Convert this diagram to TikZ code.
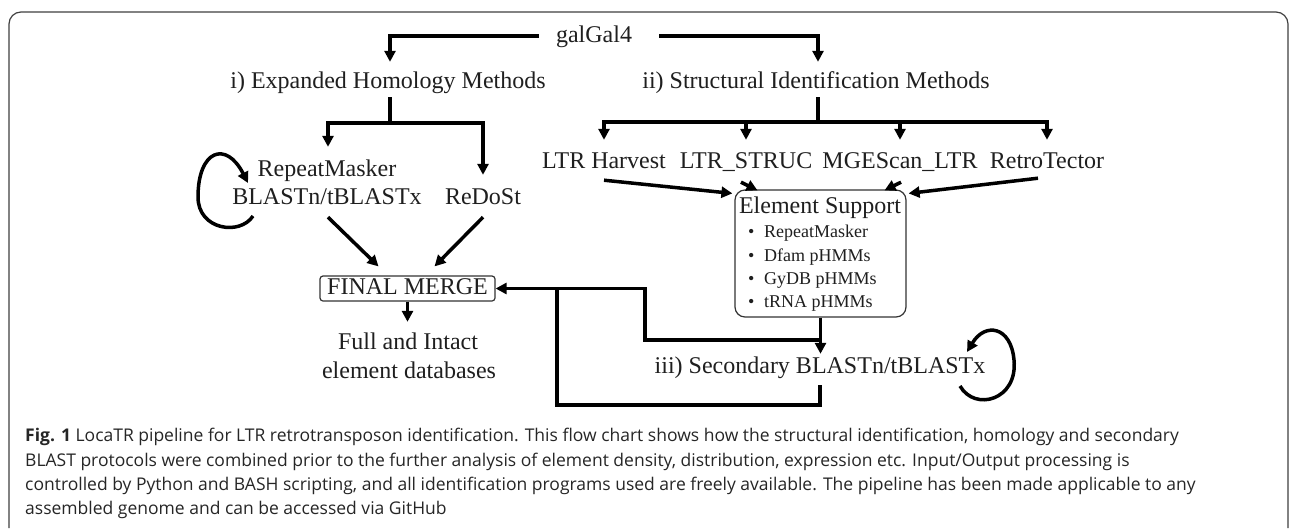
\documentclass[tikz,border=0pt]{standalone}
\usepackage{fontspec}
\setmainfont{Liberation Serif}
\newfontfamily\capfont{Open Sans}
\usetikzlibrary{arrows.meta}
\begin{document}
\begin{tikzpicture}[x=1pt,y=-1pt,
  lab/.style={inner sep=0pt, text height=17pt, text depth=5pt, font=\fontsize{24pt}{28pt}\selectfont, text=black!88},
  sm/.style={inner sep=0pt, text height=13pt, text depth=4pt, font=\fontsize{18pt}{22pt}\selectfont, text=black!88},
  ln/.style={line width=3.5pt, draw=black},
  arr/.style={ln, -{Triangle[length=11pt,width=11pt]}},
  boxed/.style={draw=black!80, line width=1.2pt},
  captxt/.style={inner sep=0pt, anchor=base west, font=\capfont\fontsize{17.5pt}{24pt}\selectfont, text=black!85},
  frm/.style={draw=black!75, line width=1.2pt, rounded corners=12pt}]
\useasboundingbox (0,0) rectangle (1290,528);
\fill[white] (0,0) rectangle (1290,528);
\draw[frm] (9,528) -- (9,12) -- (1288,12) -- (1288,528);

% nodes
\node[lab] (gal) at (594,36) {galGal4};
\node[lab] (hom) at (388,82) {i) Expanded Homology Methods};
\node[lab] (str) at (816,82) {ii) Structural Identification Methods};
\node[lab] (rm1) at (327,170) {RepeatMasker};
\node[lab] (rm2) at (327,198) {BLASTn/tBLASTx};
\node[lab] (redo) at (483,198) {ReDoSt};
\node[lab] (ltrh) at (604,162) {LTR Harvest};
\node[lab] (ltrs) at (746,162) {LTR\_STRUC};
\node[lab] (mge) at (900,162) {MGEScan\_LTR};
\node[lab] (retro) at (1047,162) {RetroTector};
\node[lab, boxed, rounded corners=3pt, minimum width=175pt, minimum height=25pt] (fm) at (407.5,288.5) {FINAL MERGE};
\node[lab] (full1) at (408,343) {Full and Intact};
\node[lab] (full2) at (409,372) {element databases};
\node[boxed, rounded corners=10pt, minimum width=171pt, minimum height=127pt, inner sep=0pt] (es) at (820.5,253.5) {};
\node[lab] (eshead) at (820,207) {Element Support};
\node[sm, anchor=west] (e1) at (748,233) {\makebox[16pt][l]{\textbullet}RepeatMasker};
\node[sm, anchor=west] (e2) at (748,257) {\makebox[16pt][l]{\textbullet}Dfam pHMMs};
\node[sm, anchor=west] (e3) at (748,280) {\makebox[16pt][l]{\textbullet}GyDB pHMMs};
\node[sm, anchor=west] (e4) at (748,303) {\makebox[16pt][l]{\textbullet}tRNA pHMMs};
\node[lab] (sec) at (820,367) {iii) Secondary BLASTn/tBLASTx};

% top branches
\draw[arr] ([xshift=-17pt]gal.west) -| ([xshift=2pt,yshift=9pt]hom.north);
\draw[arr] ([xshift=27pt]gal.east) -| ([xshift=2pt,yshift=9pt]str.north);

\coordinate (hj) at (390,123);
\draw[ln] ([xshift=2pt,yshift=-4pt]hom.south) -- (hj);
\draw[arr] (hj) -| ([xshift=1pt,yshift=12pt]rm1.north);
\draw[arr] (hj) -| ([yshift=12pt]redo.north);

\coordinate (sj) at (818,122);
\draw[ln] ([xshift=2pt,yshift=-4pt]str.south) -- (sj);
\draw[arr] (sj) -| ([yshift=11pt]ltrh.north);
\draw[arr] (sj) -| ([yshift=11pt]ltrs.north);
\draw[arr] (sj) -| ([yshift=11pt]mge.north);
\draw[arr] (sj) -| ([yshift=11pt]retro.north);

% into FINAL MERGE
\draw[arr] ([xshift=1pt,yshift=-8pt]rm2.south) -- ([xshift=-29pt,yshift=9pt]fm.north);
\draw[arr] ([yshift=-8pt]redo.south) -- ([xshift=27pt,yshift=9pt]fm.north);
\draw[arr] (fm.south) -- ([yshift=10pt]fm.south |- full1.north);

% into Element Support
\draw[arr] ([yshift=-7pt]ltrh.south) -- ([xshift=-2pt,yshift=-4pt]es.north west);
\draw[arr] ([xshift=-5pt,yshift=-9pt]ltrs.south) -- ([xshift=-63pt,yshift=-1pt]es.north);
\draw[arr] ([xshift=1pt,yshift=-9pt]mge.south) -- ([xshift=64pt,yshift=-1pt]es.north);
\draw[arr] ([xshift=-9pt,yshift=-5pt]retro.south) -- ([xshift=2pt,yshift=-4pt]es.north east);

% Element Support to secondary and back to merge
\draw[arr] (es.south) -- ([yshift=2pt]es.south |- sec.north);
\coordinate (ej) at (820.5,340);
\coordinate (c1) at (645,288.5);
\draw[arr] (ej) -| (c1) -- (fm.east);
\coordinate (c2) at (557,405);
\draw[ln] ([yshift=-7pt]sec.south) |- (c2) -- (c2 |- fm.east);

% self loops
\coordinate (l1) at (253,216);
\coordinate (l2) at (248,183);
\draw[arr] (l1) .. controls (240,236) and (198,230) .. (198,197)
              .. controls (198,150) and (226,140) .. (l2);
\coordinate (r1) at (960,386);
\coordinate (r2) at (967,352);
\draw[arr] (r1) .. controls (975,412) and (1018,400) .. (1014,360)
              .. controls (1011,326) and (985,322) .. (r2);

% caption
\node[captxt] (cap1) at (25,441) {\textbf{Fig. 1} LocaTR pipeline for LTR retrotransposon identification. This flow chart shows how the structural identification, homology and secondary};
\node[captxt] (cap2) at (25,466) {BLAST protocols were combined prior to the further analysis of element density, distribution, expression etc. Input/Output processing is};
\node[captxt] (cap3) at (25,490) {controlled by Python and BASH scripting, and all identification programs used are freely available. The pipeline has been made applicable to any};
\node[captxt] (cap4) at (25,514) {assembled genome and can be accessed via GitHub};
\end{tikzpicture}
\end{document}
